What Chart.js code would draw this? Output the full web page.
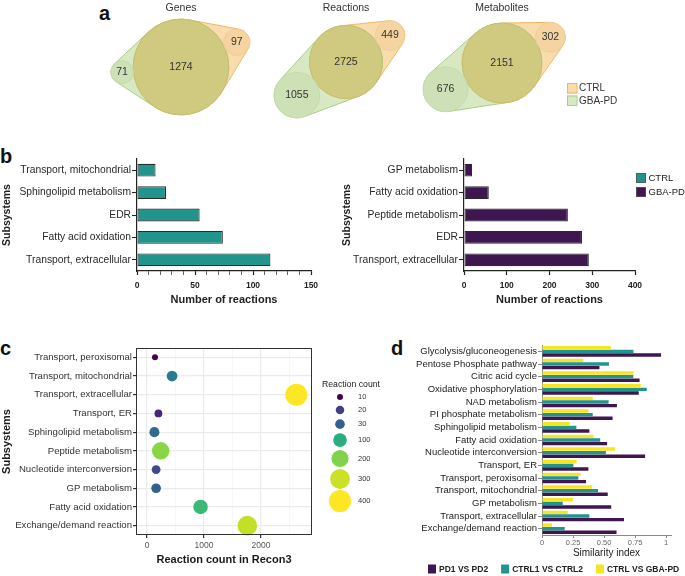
<!DOCTYPE html>
<html>
<head>
<meta charset="utf-8">
<script src="https://cdn.jsdelivr.net/npm/chart.js@4.4.1/dist/chart.umd.min.js"></script>
<style>
  body { margin: 0; background: #fff; width: 685px; height: 576px; position: relative; overflow: hidden; font-family: 'Liberation Sans', Arial, sans-serif; }
  canvas { position: absolute; }
  .tag { position: absolute; font-weight: bold; font-size: 20px; line-height: 1; color: #111; }
</style>
</head>
<body>
<div class="tag" style="left:99px;top:3px">a</div>
<div class="tag" style="left:0px;top:146px">b</div>
<div class="tag" style="left:0px;top:338px">c</div>
<div class="tag" style="left:391px;top:338px">d</div>

<canvas id="vennGenes" width="160" height="134" style="left:101px;top:0px"></canvas>
<canvas id="vennReactions" width="160" height="124" style="left:266px;top:0px"></canvas>
<canvas id="vennMetabolites" width="240" height="126" style="left:382px;top:0px"></canvas>
<canvas id="ctrlChart" width="330" height="170" style="left:0px;top:140px"></canvas>
<canvas id="gbaChart" width="345" height="170" style="left:340px;top:140px"></canvas>
<canvas id="reconChart" width="400" height="246" style="left:0px;top:330px"></canvas>
<canvas id="simChart" width="285" height="241" style="left:400px;top:335px"></canvas>

<script>
// ---- data ----
// a: model overlap
var vennTitles = ['Genes', 'Reactions', 'Metabolites'];
var vennShared = [1274, 2725, 2151];
var vennGbaOnly = [71, 1055, 676];
var vennCtrlOnly = [97, 449, 302];
var groupNames = ['CTRL', 'GBA-PD'];

// b: subsystems with most reactions
var ctrlSubsystems = ['Transport, mitochondrial', 'Sphingolipid metabolism', 'EDR', 'Fatty acid oxidation', 'Transport, extracellular'];
var ctrlReactions = [16, 25, 54, 74, 115];
var ctrlTicks = [0, 50, 100, 150];
var gbaSubsystems = ['GP metabolism', 'Fatty acid oxidation', 'Peptide metabolism', 'EDR', 'Transport, extracellular'];
var gbaReactions = [19, 58, 243, 276, 292];
var gbaTicks = [0, 100, 200, 300, 400];

// c: subsystem size in Recon3
var reconSubsystems = ['Transport, peroxisomal', 'Transport, mitochondrial', 'Transport, extracellular', 'Transport, ER',
    'Sphingolipid metabolism', 'Peptide metabolism', 'Nucleotide interconversion', 'GP metabolism',
    'Fatty acid oxidation', 'Exchange/demand reaction'];
var reconCount = [140, 440, 2620, 200, 130, 240, 160, 160, 940, 1760];
var reactionCount = [10, 45, 400, 15, 35, 210, 22, 30, 120, 290];
var countBreaks = [10, 20, 30, 100, 200, 300, 400];
var reconTicks = [0, 1000, 2000];

// d: similarity index
var simSubsystems = ['Glycolysis/gluconeogenesis', 'Pentose Phosphate pathway', 'Citric acid cycle', 'Oxidative phosphorylation',
    'NAD metabolism', 'PI phosphate metabolism', 'Sphingolipid metabolism', 'Fatty acid oxidation',
    'Nucleotide interconversion', 'Transport, ER', 'Transport, peroxisomal', 'Transport, mitochondrial',
    'GP metabolism', 'Transport, extracellular', 'Exchange/demand reaction'];
var simPd = [0.96, 0.463, 0.787, 0.78, 0.604, 0.569, 0.382, 0.525, 0.831, 0.374, 0.355, 0.53, 0.558, 0.661, 0.601];
var simCtrl = [0.737, 0.54, 0.736, 0.845, 0.537, 0.409, 0.277, 0.469, 0.515, 0.253, 0.293, 0.452, 0.167, 0.382, 0.183];
var simCross = [0.555, 0.333, 0.739, 0.797, 0.41, 0.375, 0.223, 0.416, 0.589, 0.279, 0.311, 0.405, 0.25, 0.207, 0.08];
var simNames = ['PD1 VS PD2', 'CTRL1 VS CTRL2', 'CTRL VS GBA-PD'];
var simTicks = [0, 0.25, 0.5, 0.75, 1];
var simTickLabels = ['0', '0.25', '0.50', '0.75', '1'];

// ---- styling ----
Chart.defaults.font.family = "'Liberation Sans', Arial, sans-serif";
Chart.defaults.color = '#222';

var Colours = {
    ctrl: '#21948b',
    gba: '#3e1650',
    yellow: '#f9e424',
    vennCtrlFill: '#f8dcae', vennCtrlLine: '#f0b85e', vennCtrlDot: '#f5d4a1',
    vennGbaFill: '#d8e8c3', vennGbaLine: '#aacd87', vennGbaDot: '#cde0b6',
    vennShared: '#cfca80'
};
var vennScale = [1.34, 0.70, 0.86];
var vennGbaAngle = [175, 146, 155];
var vennCtrlAngle = [-24, -31, -28];

var viridisStops = ['#440154', '#482576', '#414487', '#35608d', '#2a788e', '#21908c', '#22a884', '#43bf71', '#7ad151', '#bbdf27', '#fde725'];

var Util = {
    hexRgb: function (h) {
        return [parseInt(h.substr(1, 2), 16), parseInt(h.substr(3, 2), 16), parseInt(h.substr(5, 2), 16)];
    },
    viridis: function (t) {
        t = Math.max(0, Math.min(1, t));
        var p = t * (viridisStops.length - 1);
        var i = Math.min(Math.floor(p), viridisStops.length - 2);
        var f = p - i;
        var a = Util.hexRgb(viridisStops[i]), b = Util.hexRgb(viridisStops[i + 1]);
        return 'rgb(' + [0, 1, 2].map(function (k) { return Math.round(a[k] + (b[k] - a[k]) * f); }).join(',') + ')';
    },
    // colour on log scale, size on area scale (like the ggplot legend)
    countColour: function (v) {
        var lo = countBreaks[0], hi = countBreaks[countBreaks.length - 1];
        return Util.viridis(Math.log(v / lo) / Math.log(hi / lo));
    },
    countRadius: function (v) {
        var lo = countBreaks[0], hi = countBreaks[countBreaks.length - 1];
        return 3 + 8 * Math.sqrt(Math.max(0, (v - lo) / (hi - lo)));
    }
};

// ---- panel a: venn diagrams ----
function drawHull(ctx, a, b, fill, line) {
    var R = a.options.radius, r = b.options.radius;
    var dx = b.x - a.x, dy = b.y - a.y;
    var d = Math.sqrt(dx * dx + dy * dy);
    var th = Math.atan2(dy, dx);
    var ph = Math.acos((R - r) / d);
    ctx.beginPath();
    ctx.arc(a.x, a.y, R, th + ph, th - ph + 2 * Math.PI);
    ctx.arc(b.x, b.y, r, th - ph, th + ph);
    ctx.closePath();
    if (fill) { ctx.fillStyle = fill; ctx.fill(); }
    if (line) { ctx.strokeStyle = line; ctx.lineWidth = 1; ctx.stroke(); }
}

var vennPlugin = {
    id: 'venn',
    beforeDatasetsDraw: function (chart) {
        var p = chart.getDatasetMeta(0).data, ctx = chart.ctx;
        ctx.save();
        drawHull(ctx, p[0], p[1], Colours.vennGbaFill, null);
        drawHull(ctx, p[0], p[2], Colours.vennCtrlFill, null);
        drawHull(ctx, p[0], p[1], null, Colours.vennGbaLine);
        drawHull(ctx, p[0], p[2], null, Colours.vennCtrlLine);
        ctx.restore();
    },
    afterDatasetsDraw: function (chart, args, opts) {
        var p = chart.getDatasetMeta(0).data, ctx = chart.ctx;
        var i = opts.index;
        var nums = [vennShared[i], vennGbaOnly[i], vennCtrlOnly[i]];
        ctx.save();
        ctx.fillStyle = '#333';
        ctx.textAlign = 'center';
        ctx.textBaseline = 'middle';
        ctx.font = "10.5px 'Liberation Sans', Arial, sans-serif";
        for (var k = 0; k < 3; ++k) ctx.fillText(String(nums[k]), p[k].x, p[k].y);
        ctx.fillText(vennTitles[i], chart.scales.x.getPixelForValue(0), 8);
        if (opts.legend) {
            var x0 = chart.scales.x.getPixelForValue(65), y0 = chart.scales.y.getPixelForValue(20);
            var fills = [Colours.vennCtrlFill, Colours.vennGbaFill], lines = [Colours.vennCtrlLine, Colours.vennGbaLine];
            ctx.textAlign = 'left';
            ctx.font = "10px 'Liberation Sans', Arial, sans-serif";
            for (var j = 0; j < groupNames.length; ++j) {
                var y = y0 + j * 12.5;
                ctx.fillStyle = fills[j];
                ctx.fillRect(x0, y, 10, 10.5);
                ctx.strokeStyle = lines[j];
                ctx.lineWidth = 1;
                ctx.strokeRect(x0 + 0.5, y + 0.5, 9.5, 9.5);
                ctx.fillStyle = '#333';
                ctx.fillText(groupNames[j], x0 + 12, y + 5.5);
            }
        }
        ctx.restore();
    }
};

function vennChart(id, i, legend) {
    var canvas = document.getElementById(id);
    var W = canvas.width, H = canvas.height;
    var k = vennScale[i];
    var R = k * Math.sqrt(vennShared[i]);
    var rg = k * Math.sqrt(vennGbaOnly[i]);
    var rc = k * Math.sqrt(vennCtrlOnly[i]);
    var ag = vennGbaAngle[i] * Math.PI / 180, ac = vennCtrlAngle[i] * Math.PI / 180;
    var pts = [
        { x: 0, y: 0, r: R },
        { x: (R + rg) * Math.cos(ag), y: (R + rg) * Math.sin(ag), r: rg },
        { x: (R + rc) * Math.cos(ac), y: (R + rc) * Math.sin(ac), r: rc }
    ];
    return new Chart(canvas, {
        type: 'bubble',
        data: { datasets: [{
            data: pts,
            backgroundColor: [Colours.vennShared, Colours.vennGbaDot, Colours.vennCtrlDot],
            borderColor: ['#c3c074', '#c4dbab', '#f0cd97'],
            borderWidth: 1,
            clip: false
        }] },
        options: {
            responsive: false, animation: false, events: [],
            layout: { padding: 0, autoPadding: false },
            plugins: { legend: { display: false }, tooltip: { enabled: false }, venn: { index: i, legend: legend } },
            scales: {
                x: { type: 'linear', display: false, min: -W / 2, max: W / 2 },
                y: { type: 'linear', display: false, min: -H / 2, max: H / 2, reverse: true }
            }
        },
        plugins: [vennPlugin]
    });
}

vennChart('vennGenes', 0, false);
vennChart('vennReactions', 1, false);
vennChart('vennMetabolites', 2, true);

// ---- panel b: reaction counts per subsystem ----
var groupLegend = {
    id: 'groupLegend',
    afterDraw: function (chart) {
        var ctx = chart.ctx, x = chart.chartArea.right + 1, y = chart.chartArea.top + 14;
        var fills = [Colours.ctrl, Colours.gba];
        ctx.save();
        ctx.font = "9.5px 'Liberation Sans', Arial, sans-serif";
        ctx.textBaseline = 'middle';
        for (var j = 0; j < groupNames.length; ++j) {
            var yy = y + j * 14;
            ctx.fillStyle = fills[j];
            ctx.fillRect(x, yy, 10, 10);
            ctx.strokeStyle = '#555';
            ctx.lineWidth = 0.8;
            ctx.strokeRect(x + 0.5, yy + 0.5, 9, 9);
            ctx.fillStyle = '#222';
            ctx.fillText(groupNames[j], x + 12.5, yy + 5.5);
        }
        ctx.restore();
    }
};

function countChart(id, labels, values, colour, ticks, step, yWidth, padRight, extra) {
    var tickValues = [];
    for (var v = ticks[0]; v <= ticks[ticks.length - 1]; v += step) tickValues.push(v);
    return new Chart(document.getElementById(id), {
        type: 'bar',
        data: { labels: labels, datasets: [{
            data: values, backgroundColor: colour, borderColor: '#2b2b2b', borderWidth: 1.1,
            borderSkipped: false, barPercentage: 0.57, categoryPercentage: 1
        }] },
        options: {
            indexAxis: 'y', responsive: false, animation: false, events: [],
            layout: { padding: { top: 19, right: padRight, bottom: 0, left: 0 }, autoPadding: false },
            plugins: { legend: { display: false }, tooltip: { enabled: false } },
            scales: {
                x: {
                    type: 'linear', min: ticks[0], max: ticks[ticks.length - 1],
                    afterBuildTicks: function (s) { s.ticks = tickValues.map(function (t) { return { value: t }; }); },
                    afterFit: function (s) { s.height = 39; },
                    border: { color: '#222', width: 1.2 },
                    grid: { drawOnChartArea: false, tickLength: 4, tickColor: '#222',
                        tickWidth: function (c) { return ticks.indexOf(c.tick.value) >= 0 ? 1.2 : 0.7; } },
                    ticks: { autoSkip: false, maxRotation: 0, padding: 6, color: '#222', font: { size: 8.5, weight: 'bold' },
                        callback: function (t) { return ticks.indexOf(t) >= 0 ? String(t) : ''; } },
                    title: { display: true, text: 'Number of reactions', color: '#222', font: { size: 11, weight: 'bold' }, padding: { top: 0, bottom: 3 } }
                },
                y: {
                    afterFit: function (s) { s.width = yWidth; },
                    border: { color: '#222', width: 1.2 },
                    grid: { drawOnChartArea: false, offset: false, tickLength: 5, tickColor: '#222', tickWidth: 1.1 },
                    ticks: { autoSkip: false, padding: 1, color: '#2a2a2a', font: { size: 10.3 } },
                    title: { display: true, text: 'Subsystems', color: '#222', font: { size: 10.5, weight: 'bold' }, padding: { top: 1, bottom: 0 } }
                }
            }
        },
        plugins: extra
    });
}

countChart('ctrlChart', ctrlSubsystems, ctrlReactions, Colours.ctrl, ctrlTicks, 10, 137, 19, []);
countChart('gbaChart', gbaSubsystems, gbaReactions, Colours.gba, gbaTicks, 100, 124, 50, [groupLegend]);

// ---- panel c: bubble plot ----
var panelBorder = {
    id: 'panelBorder',
    afterDatasetsDraw: function (chart) {
        var a = chart.chartArea, ctx = chart.ctx;
        ctx.save();
        ctx.strokeStyle = '#333';
        ctx.lineWidth = 1;
        ctx.strokeRect(a.left + 0.5, a.top + 0.5, a.right - a.left - 1, a.bottom - a.top - 1);
        ctx.restore();
    }
};

var sizeLegend = {
    id: 'sizeLegend',
    afterDraw: function (chart) {
        var a = chart.chartArea, ctx = chart.ctx;
        ctx.save();
        ctx.fillStyle = '#222';
        ctx.textBaseline = 'middle';
        ctx.font = "8.7px 'Liberation Sans', Arial, sans-serif";
        ctx.fillText('Reaction count', a.right + 10, a.top + 37);
        var y = a.top + 49, prevH = 0;
        ctx.font = "7.5px 'Liberation Sans', Arial, sans-serif";
        for (var i = 0; i < countBreaks.length; ++i) {
            var r = Util.countRadius(countBreaks[i]);
            var h = 8.1 + 1.34 * r;
            if (i > 0) y += (prevH + h) / 2;
            prevH = h;
            ctx.beginPath();
            ctx.arc(a.right + 28, y, r, 0, 2 * Math.PI);
            ctx.fillStyle = Util.countColour(countBreaks[i]);
            ctx.fill();
            ctx.fillStyle = '#333';
            ctx.fillText(String(countBreaks[i]), a.right + 46, y);
        }
        ctx.restore();
    }
};

var reconTickValues = [];
reconTicks.forEach(function (t) { reconTickValues.push(t, t + 500); });
function isReconMajor(v) { return reconTicks.indexOf(v) >= 0; }

new Chart(document.getElementById('reconChart'), {
    type: 'bubble',
    data: { datasets: [{
        data: reconSubsystems.map(function (s, i) {
            return { x: reconCount[i], y: s, r: Util.countRadius(reactionCount[i]) };
        }),
        backgroundColor: reactionCount.map(Util.countColour),
        borderWidth: 0,
        clip: false
    }] },
    options: {
        responsive: false, animation: false, events: [],
        layout: { padding: { top: 18, right: 88, bottom: 0, left: 0 }, autoPadding: false },
        plugins: { legend: { display: false }, tooltip: { enabled: false } },
        scales: {
            x: {
                type: 'linear', min: -193, max: 2895,
                afterBuildTicks: function (s) { s.ticks = reconTickValues.map(function (t) { return { value: t }; }); },
                afterFit: function (s) { s.height = 41; },
                border: { display: false },
                grid: {
                    color: function (c) { return isReconMajor(c.tick.value) ? '#ebebeb' : '#f3f3f3'; },
                    lineWidth: function (c) { return isReconMajor(c.tick.value) ? 1.2 : 0.7; },
                    tickColor: function (c) { return isReconMajor(c.tick.value) ? '#333' : 'rgba(0,0,0,0)'; },
                    tickLength: 3
                },
                ticks: { autoSkip: false, maxRotation: 0, padding: 3, color: '#555', font: { size: 8.5 },
                    callback: function (t) { return isReconMajor(t) ? String(t) : ''; } },
                title: { display: true, text: 'Reaction count in Recon3', color: '#1a1a1a', font: { size: 11, weight: 'bold' }, padding: { top: 0, bottom: 9 } }
            },
            y: {
                type: 'category', labels: reconSubsystems, offset: true,
                afterFit: function (s) { s.width = 136; },
                border: { display: false },
                grid: { color: '#ebebeb', lineWidth: 1.2, tickColor: '#333', tickLength: 3 },
                ticks: { autoSkip: false, padding: 1, color: '#333', font: { size: 9.6 } },
                title: { display: true, text: 'Subsystems', color: '#1a1a1a', font: { size: 11, weight: 'bold' }, padding: { top: 0, bottom: 0 } }
            }
        }
    },
    plugins: [panelBorder, sizeLegend]
});

// ---- panel d: similarity index ----
var simLegend = {
    id: 'simLegend',
    afterDraw: function (chart) {
        var ctx = chart.ctx, x = 28, y = 234;
        var sets = chart.data.datasets.slice().reverse();
        ctx.save();
        ctx.font = "bold 8.5px 'Liberation Sans', Arial, sans-serif";
        ctx.textBaseline = 'middle';
        sets.forEach(function (ds) {
            ctx.fillStyle = ds.backgroundColor;
            ctx.fillRect(x, y - 4.5, 8, 9);
            ctx.fillStyle = '#222';
            ctx.fillText(ds.label, x + 11, y + 0.5);
            x += 11 + ctx.measureText(ds.label).width + 13;
        });
        ctx.restore();
    }
};

new Chart(document.getElementById('simChart'), {
    type: 'bar',
    data: {
        labels: simSubsystems,
        datasets: [
            { label: simNames[2], data: simCross, backgroundColor: Colours.yellow },
            { label: simNames[1], data: simCtrl, backgroundColor: Colours.ctrl },
            { label: simNames[0], data: simPd, backgroundColor: Colours.gba }
        ]
    },
    options: {
        indexAxis: 'y', responsive: false, animation: false, events: [],
        datasets: { bar: { categoryPercentage: 0.86, barPercentage: 0.93, borderWidth: 0 } },
        layout: { padding: { top: 10, right: 14, bottom: 0, left: 0 }, autoPadding: false },
        plugins: { legend: { display: false }, tooltip: { enabled: false } },
        scales: {
            x: {
                type: 'linear', min: 0, max: 1.04,
                afterBuildTicks: function (s) { s.ticks = simTicks.map(function (t) { return { value: t }; }); },
                afterFit: function (s) { s.height = 41; },
                border: { color: '#8a8a8a', width: 1 },
                grid: { drawOnChartArea: false, tickLength: 3, tickColor: '#8a8a8a' },
                ticks: { autoSkip: false, maxRotation: 0, padding: 0, color: '#666', font: { size: 7.5 },
                    callback: function (t) { return simTickLabels[simTicks.indexOf(t)]; } },
                title: { display: true, text: 'Similarity index', color: '#222', font: { size: 10 }, padding: { top: 0, bottom: 17 } }
            },
            y: {
                afterFit: function (s) { s.width = 142; },
                border: { color: '#8a8a8a', width: 1 },
                grid: { drawOnChartArea: false, offset: false, tickLength: 4, tickColor: '#8a8a8a' },
                ticks: { autoSkip: false, padding: 1, color: '#222', font: { size: 9.5 } }
            }
        }
    },
    plugins: [simLegend]
});
</script>
</body>
</html>
